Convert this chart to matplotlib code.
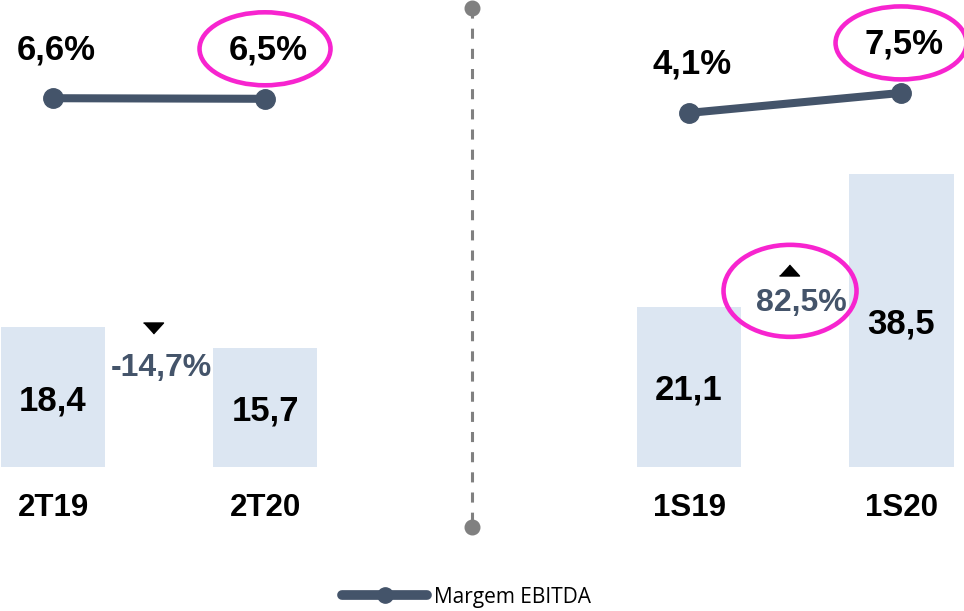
import matplotlib
matplotlib.use("Agg")
import matplotlib.pyplot as plt
from matplotlib.patches import Ellipse
from matplotlib.lines import Line2D
from matplotlib.transforms import ScaledTranslation

# --- Data ---
periods = ["2T19", "2T20", "1S19", "1S20"]
ebitda = [18.4, 15.7, 21.1, 38.5]
margin = [6.6, 6.5, 4.1, 7.5]
margin_labels = ["6,6%", "6,5%", "4,1%", "7,5%"]
ebitda_labels = ["18,4", "15,7", "21,1", "38,5"]
changes = ["-14,7%", "82,5%"]
change_up = [False, True]
highlight_margin = [False, True, False, True]

# --- Style ---
BAR_COLOR = "#DCE6F2"
LINE_COLOR = "#44546A"
PINK = "#F724CF"
GREY = "#808080"
FONT = "Liberation Sans"

plt.rcParams["font.family"] = [FONT, "DejaVu Sans"]

fig = plt.figure(figsize=(9.64, 6.11), dpi=100)
ax = fig.add_axes([0, 0, 1, 1])
ax2 = ax.twinx()
for a in (ax, ax2):
    a.axis("off")

xpos = [0, 1, 3, 4]
ax.set_xlim(-0.25, 4.297)
ax.set_ylim(-18.95, 61.45)
ax2.set_ylim(-80.6, 23.3)

# bars
ax.bar(xpos, ebitda, width=0.495, color=BAR_COLOR, zorder=1)
for x, v, lab in zip(xpos, ebitda, ebitda_labels):
    ax.text(x, v / 2, lab, ha="center", va="center_baseline", fontsize=25,
            fontweight="bold", color="black")
for x, p in zip(xpos, periods):
    ax.annotate(p, (x, 0), xytext=(0, -29.5), textcoords="offset points",
                ha="center", va="center", fontsize=22.5, fontweight="bold")

# margin lines (one per panel)
for i in (0, 2):
    ax2.plot(xpos[i:i + 2], margin[i:i + 2], color=LINE_COLOR, lw=5.8,
             marker="o", ms=14, solid_capstyle="round", zorder=3)
for x, m, lab, hl in zip(xpos, margin, margin_labels, highlight_margin):
    ax2.annotate(lab, (x, m), xytext=(2, 35), textcoords="offset points",
                 ha="center", va="center", fontsize=25, fontweight="bold")
    if hl:
        tr = fig.dpi_scale_trans + ScaledTranslation(x, m, ax2.transData)
        ax2.add_patch(Ellipse((0, 0.5), 1.31, 0.73, transform=tr, fill=False,
                              ec=PINK, lw=3.3, zorder=4))

# variation labels between bars
tri_down = [(-1, 0.55), (1, 0.55), (0, -0.55)]
tri_up = [(-1, -0.55), (1, -0.55), (0, 0.55)]
for k, (lab, up) in enumerate(zip(changes, change_up)):
    xa, xb = xpos[2 * k], xpos[2 * k + 1]
    xm = (xa + xb) / 2
    hi = max(ebitda[2 * k], ebitda[2 * k + 1])
    if up:
        ty, ly = 25.9, 21.6
    else:
        ty, ly = hi - 0.1, 13.0
    ax.plot(xm - 0.03, ty, marker=tri_up if up else tri_down, ms=14.4,
            color="black", ls="none", zorder=5)
    ax.text(xm + 0.01 + (0.02 if up else 0), ly, lab, ha="center", va="center",
            fontsize=23, fontweight="bold", color=LINE_COLOR)
    if up:
        tr = fig.dpi_scale_trans + ScaledTranslation(xm, ly, ax.transData)
        ax.add_patch(Ellipse((-0.05, 0.12), 1.33, 0.92, transform=tr,
                             fill=False, ec=PINK, lw=3.3, zorder=4))

# divider between panels
xdiv = 1.975
ax.plot([xdiv, xdiv], [0.987, 0.1375], transform=ax.get_xaxis_transform(),
        color=GREY, lw=2.2, dashes=(3.3, 3.3), marker="o", ms=10.5,
        markevery=[0, 1], clip_on=False)

# legend
handle = Line2D([], [], color=LINE_COLOR, lw=7, marker="o", ms=11,
                solid_capstyle="round")
fig.legend([handle], ["Margem EBITDA"], loc="center left",
           bbox_to_anchor=(342 / 964, 1 - 597 / 611), frameon=False,
           prop={"family": "Open Sans", "size": 15}, handlelength=4.1,
           handletextpad=0.3, borderpad=0, borderaxespad=0)

fig.savefig("out.png", dpi=100)
